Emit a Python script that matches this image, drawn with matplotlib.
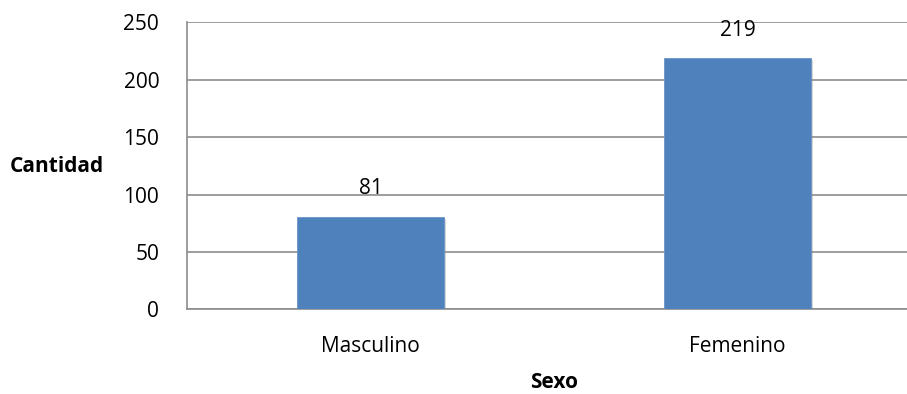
import matplotlib
matplotlib.use("Agg")
import matplotlib.pyplot as plt
import matplotlib.patheffects as pe

# datos del grafico
categorias = ["Masculino", "Femenino"]
cantidades = [81, 219]
y_ticks = [0, 50, 100, 150, 200, 250]

plt.rcParams['font.family'] = ['Open Sans', 'DejaVu Sans']
fs = 15

fig = plt.figure(figsize=(9.07, 3.94), dpi=100)
# el area de trazado sigue un poco mas alla del borde derecho (captura recortada)
ax = fig.add_axes([0.2062, 0.2145, 0.8093, 0.7284])

pos = list(range(len(categorias)))
barras = ax.bar(pos, cantidades, width=0.4, color="#4F81BD", zorder=3,
                edgecolor="#6A96CB", linewidth=0.6)
for b in barras:
    b.set_path_effects([pe.SimplePatchShadow(offset=(1.5, -1.5), alpha=0.3, shadow_rgbFace="#777777"),
                        pe.Normal()])

for x, v in zip(pos, cantidades):
    ax.annotate(str(v), (x, v), xytext=(0, 20), textcoords="offset points",
                ha="center", va="center", fontsize=fs, color="black")

ax.set_xlim(-0.5, 1.5)
ax.set_ylim(0, 250)
ax.set_yticks(y_ticks)
ax.set_xticks(pos)
ax.set_xticklabels(categorias)
ax.tick_params(axis="both", length=0, labelsize=fs, colors="black")
ax.tick_params(axis="y", pad=20)
ax.tick_params(axis="x", pad=19)

ax.grid(axis="y", color="#8C8C8C", linewidth=1.2, zorder=0)
for s in ["top", "right"]:
    ax.spines[s].set_visible(False)
for s in ["left", "bottom"]:
    ax.spines[s].set_color("#8C8C8C")
    ax.spines[s].set_linewidth(1.2)

fig.text(10 / 907, 1 - 167 / 394, "Cantidad", fontsize=fs, fontweight="bold",
         ha="left", va="center")
fig.text(554 / 907, 1 - 382 / 394, "Sexo", fontsize=fs, fontweight="bold",
         ha="center", va="center")

fig.savefig("out.png", dpi=100)
